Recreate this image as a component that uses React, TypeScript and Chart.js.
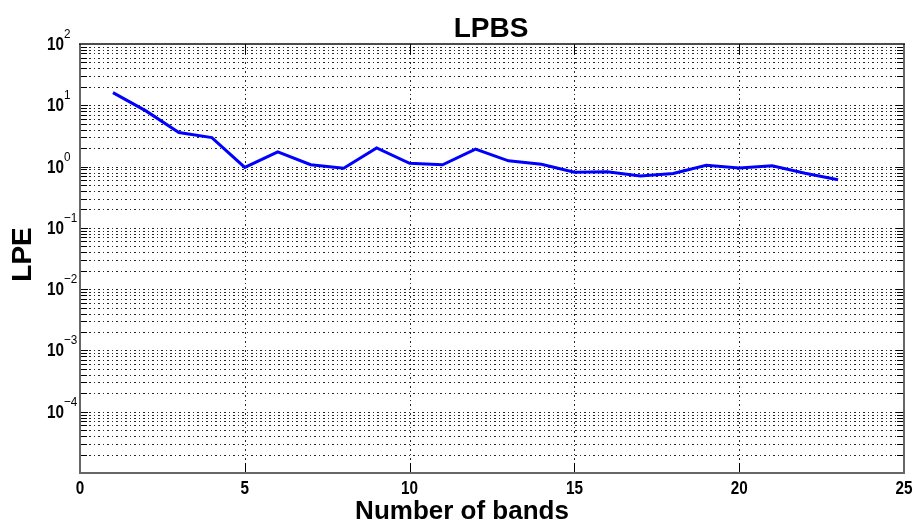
import React, { useEffect, useRef } from 'react';
import { Chart, registerables } from 'chart.js';

Chart.register(...registerables);

const titleText = 'LPBS';
const xTitleText = 'Number of bands';
const yTitleText = 'LPE';
const bands = [1, 2, 3, 4, 5, 6, 7, 8, 9, 10, 11, 12, 13, 14, 15, 16, 17, 18, 19, 20, 21, 22, 23];
const lpe = [16.1, 8.1, 3.59, 2.97, 0.97, 1.74, 1.07, 0.94, 2.02, 1.13, 1.07, 1.92, 1.24, 1.09, 0.81, 0.82, 0.7, 0.77, 1.05, 0.95, 1.03, 0.78, 0.61];
const xTickValues = [0, 5, 10, 15, 20, 25];
const yMinExp = -5;
const yMaxExp = 2;
const yLabelExps = [-4, -3, -2, -1, 0, 1, 2];

function drawText(ctx: CanvasRenderingContext2D, text: string, x: number, y: number, font: string, align: CanvasTextAlign, baseline: CanvasTextBaseline, sx = 1) {
  ctx.save();
  ctx.font = font;
  ctx.textAlign = align;
  ctx.textBaseline = baseline;
  ctx.fillStyle = '#000';
  ctx.translate(x, y);
  ctx.scale(sx, 1);
  ctx.fillText(text, 0, 0);
  ctx.restore();
}

const matlabPlugin = {
  id: 'matlabLook',
  beforeDatasetsDraw(chart: any) {
    const { ctx, chartArea: a, scales } = chart;
    const ys = scales.y;
    const xs = scales.x;
    ctx.save();
    ctx.lineWidth = 1;
    ctx.strokeStyle = 'rgba(0,0,0,0.85)';
    ctx.setLineDash([2, 3, 1, 3]);
    for (let e = yMinExp; e < yMaxExp; e++) {
      for (let m = 1; m <= 9; m++) {
        if (e === yMinExp && m === 1) continue;
        const py = Math.round(ys.getPixelForValue(m * Math.pow(10, e))) + 0.5;
        ctx.beginPath();
        ctx.moveTo(a.left, py);
        ctx.lineTo(a.right, py);
        ctx.stroke();
      }
    }
    for (const t of xTickValues) {
      if (t === xTickValues[0] || t === xTickValues[xTickValues.length - 1]) continue;
      const px = Math.round(xs.getPixelForValue(t)) + 0.5;
      ctx.beginPath();
      ctx.moveTo(px, a.top);
      ctx.lineTo(px, a.bottom);
      ctx.stroke();
    }
    ctx.restore();
  },
  afterDraw(chart: any) {
    const { ctx, chartArea: a, scales } = chart;
    const ys = scales.y;
    const xs = scales.x;
    ctx.save();
    ctx.setLineDash([]);
    ctx.strokeStyle = '#000';
    ctx.lineWidth = 1;
    for (let e = yMinExp; e < yMaxExp; e++) {
      for (let m = 1; m <= 9; m++) {
        const py = Math.round(ys.getPixelForValue(m * Math.pow(10, e))) + 0.5;
        const len = m === 1 ? 8 : 7;
        ctx.beginPath();
        ctx.moveTo(a.left, py);
        ctx.lineTo(a.left + len, py);
        ctx.moveTo(a.right, py);
        ctx.lineTo(a.right - len, py);
        ctx.stroke();
      }
    }
    for (const t of xTickValues) {
      const px = Math.round(xs.getPixelForValue(t)) + 0.5;
      ctx.beginPath();
      ctx.moveTo(px, a.bottom);
      ctx.lineTo(px, a.bottom - 10);
      ctx.moveTo(px, a.top);
      ctx.lineTo(px, a.top + 10);
      ctx.stroke();
    }
    ctx.strokeStyle = '#666';
    ctx.lineWidth = 2;
    ctx.beginPath();
    ctx.moveTo(a.left, a.top);
    ctx.lineTo(a.left, a.bottom);
    ctx.lineTo(a.right, a.bottom);
    ctx.lineTo(a.right, a.top);
    ctx.stroke();
    ctx.strokeStyle = '#111';
    ctx.lineWidth = 1.5;
    ctx.beginPath();
    ctx.moveTo(a.left - 1, a.top);
    ctx.lineTo(a.right + 1, a.top);
    ctx.stroke();
    ctx.restore();

    for (const e of yLabelExps) {
      const py = ys.getPixelForValue(Math.pow(10, e));
      drawText(ctx, '10', a.left - 16, py + 1, 'bold 18px "Liberation Sans"', 'right', 'middle', 0.85);
      const ex = e < 0 ? '\u2212' + String(-e) : String(e);
      drawText(ctx, ex, a.left - 16, py - 6, '13px "Liberation Sans"', 'left', 'alphabetic', 0.9);
    }
    for (const t of xTickValues) {
      const px = xs.getPixelForValue(t);
      drawText(ctx, String(t), px, a.bottom + 16, 'bold 18px "Liberation Sans"', 'center', 'middle', 0.85);
    }
    drawText(ctx, titleText, (a.left + a.right) / 2 - 1, a.top - 7, 'bold 28px "Liberation Sans"', 'center', 'alphabetic', 1);
    drawText(ctx, xTitleText, 462, 519, 'bold 26px "Liberation Sans"', 'center', 'alphabetic', 1);
    ctx.save();
    ctx.translate(23, (a.top + a.bottom) / 2 - 4);
    ctx.rotate(-Math.PI / 2);
    drawText(ctx, yTitleText, 0, 0, 'bold 28px "Liberation Sans"', 'center', 'middle', 1);
    ctx.restore();
  },
};

export default function App() {
  const canvasRef = useRef<HTMLCanvasElement | null>(null);

  useEffect(() => {
    if (!canvasRef.current) return;
    const chart = new Chart(canvasRef.current, {
      type: 'line',
      data: {
        datasets: [
          {
            label: yTitleText,
            data: bands.map((b, i) => ({ x: b, y: lpe[i] })),
            borderColor: '#0000ff',
            backgroundColor: '#0000ff',
            borderWidth: 3,
            pointRadius: 0,
            tension: 0,
            fill: false,
          },
        ],
      },
      options: {
        animation: false,
        responsive: true,
        maintainAspectRatio: false,
        layout: { padding: { top: 44, left: 0, right: 9, bottom: 0 } },
        plugins: {
          legend: { display: false },
          title: { display: false },
          tooltip: { enabled: false },
        },
        scales: {
          x: {
            type: 'linear',
            min: xTickValues[0],
            max: xTickValues[xTickValues.length - 1],
            ticks: { display: false, stepSize: 5 },
            grid: { display: false },
            border: { display: false },
            afterFit: (scale: any) => {
              scale.height = 53;
            },
          },
          y: {
            type: 'logarithmic',
            min: Math.pow(10, yMinExp),
            max: Math.pow(10, yMaxExp),
            ticks: { display: false },
            grid: { display: false },
            border: { display: false },
            afterFit: (scale: any) => {
              scale.width = 80;
            },
          },
        },
      },
      plugins: [matlabPlugin],
    });
    return () => chart.destroy();
  }, []);

  return (
    <div style={{ position: 'fixed', left: 0, top: 0, width: 913, height: 526, background: '#fff' }}>
      <canvas ref={canvasRef} />
    </div>
  );
}
